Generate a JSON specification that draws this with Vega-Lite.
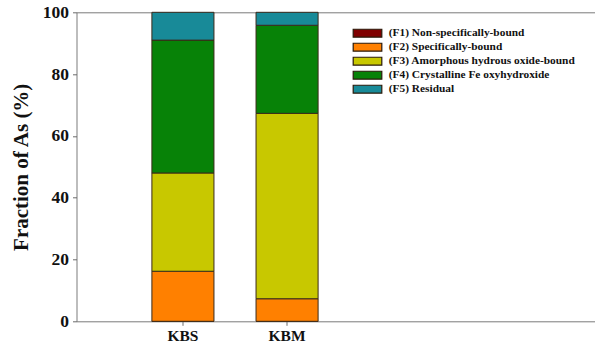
{
  "$schema": "https://vega.github.io/schema/vega-lite/v6.json",
  "width": 520,
  "height": 309,
  "autosize": "none",
  "padding": {"left": 76.5, "top": 12.3, "right": 0, "bottom": 26},
  "background": "white",
  "config": {
    "view": {"stroke": "#7a7a7a", "strokeWidth": 1},
    "font": "Liberation Serif"
  },
  "data": {
    "values": [
      {"sample": "KBS", "fraction": "(F1) Non-specifically-bound", "k": 1, "pct": 0.0},
      {"sample": "KBS", "fraction": "(F2) Specifically-bound", "k": 2, "pct": 16.2},
      {"sample": "KBS", "fraction": "(F3) Amorphous hydrous oxide-bound", "k": 3, "pct": 31.8},
      {"sample": "KBS", "fraction": "(F4) Crystalline Fe oxyhydroxide", "k": 4, "pct": 43.0},
      {"sample": "KBS", "fraction": "(F5) Residual", "k": 5, "pct": 9.0},
      {"sample": "KBM", "fraction": "(F1) Non-specifically-bound", "k": 1, "pct": 0.0},
      {"sample": "KBM", "fraction": "(F2) Specifically-bound", "k": 2, "pct": 7.3},
      {"sample": "KBM", "fraction": "(F3) Amorphous hydrous oxide-bound", "k": 3, "pct": 60.0},
      {"sample": "KBM", "fraction": "(F4) Crystalline Fe oxyhydroxide", "k": 4, "pct": 28.5},
      {"sample": "KBM", "fraction": "(F5) Residual", "k": 5, "pct": 4.2}
    ]
  },
  "mark": {"type": "bar", "stroke": "#3a2a1a", "strokeWidth": 1},
  "encoding": {
    "x": {
      "field": "sample",
      "type": "nominal",
      "sort": ["KBS", "KBM"],
      "scale": {"range": [0, 317], "paddingInner": 0.404, "paddingOuter": 0.724},
      "axis": {
        "title": null,
        "domain": false,
        "labelAngle": 0,
        "labelFont": "Liberation Serif",
        "labelFontWeight": "bold",
        "labelFontSize": 15.5,
        "labelColor": "#111",
        "labelPadding": 3,
        "tickColor": "#6a6a6a",
        "tickSize": 4
      }
    },
    "y": {
      "aggregate": "sum",
      "field": "pct",
      "type": "quantitative",
      "stack": "zero",
      "scale": {"domain": [0, 100], "nice": false},
      "axis": {
        "title": "Fraction of As (%)",
        "titleFont": "Liberation Serif",
        "titleFontWeight": "bold",
        "titleFontSize": 21,
        "titleColor": "#111",
        "titlePadding": 11,
        "values": [0, 20, 40, 60, 80, 100],
        "grid": false,
        "domain": false,
        "labelFont": "Liberation Serif",
        "labelFontWeight": "bold",
        "labelFontSize": 17.5,
        "labelColor": "#111",
        "labelPadding": 4,
        "tickColor": "#6a6a6a",
        "tickSize": 4
      }
    },
    "order": {"field": "k", "type": "quantitative"},
    "color": {
      "field": "fraction",
      "type": "nominal",
      "sort": [
        "(F1) Non-specifically-bound",
        "(F2) Specifically-bound",
        "(F3) Amorphous hydrous oxide-bound",
        "(F4) Crystalline Fe oxyhydroxide",
        "(F5) Residual"
      ],
      "scale": {"range": ["#800000", "#ff8000", "#c8c800", "#078207", "#188a98"]},
      "legend": {
        "title": null,
        "orient": "none",
        "legendX": 284.5,
        "legendY": 14.4,
        "padding": 0,
        "symbolType": "M-2.6,-0.72H2.6V0.72H-2.6Z",
        "symbolSize": 121,
        "symbolStrokeColor": "#2a1a0a",
        "symbolStrokeWidth": 1.2,
        "symbolOpacity": 1,
        "rowPadding": 1.0,
        "labelOffset": 14.8,
        "labelFont": "Liberation Serif",
        "labelFontWeight": "bold",
        "labelFontSize": 11.4,
        "labelColor": "#111",
        "labelLimit": 300
      }
    }
  }
}
